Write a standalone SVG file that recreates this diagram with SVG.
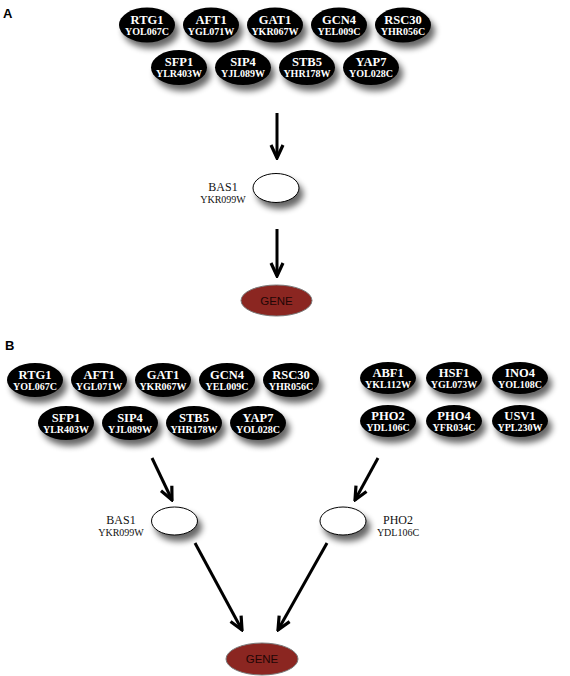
<svg xmlns="http://www.w3.org/2000/svg" width="570" height="676" viewBox="0 0 570 676">
<style>
.tf ellipse{fill:#000;}
.nm{font-family:"Liberation Serif",serif;font-weight:bold;font-size:12.5px;fill:#fff;text-anchor:middle;}
.id{font-family:"Liberation Serif",serif;font-weight:bold;font-size:10px;fill:#fff;text-anchor:middle;}
.lb{font-family:"Liberation Serif",serif;font-size:12px;fill:#111;text-anchor:middle;}
.lid{font-family:"Liberation Serif",serif;font-size:10px;fill:#111;text-anchor:middle;}
.wh{fill:#fff;stroke:#000;stroke-width:1;}
.gene{fill:#8b2621;stroke:#7a7a7a;stroke-width:1;}
.gt{font-family:"Liberation Sans Narrow","Liberation Sans",sans-serif;font-size:11.5px;fill:#220606;text-anchor:middle;}
.pl{font-family:"Liberation Sans",sans-serif;font-weight:bold;font-size:13px;fill:#000;}
.ar{stroke:#000;stroke-width:3;fill:none;marker-end:url(#ah);}
</style>
<defs>
<filter id="sh" x="-30%" y="-30%" width="170%" height="190%">
<feGaussianBlur in="SourceAlpha" stdDeviation="3"/>
<feOffset dx="4" dy="6"/>
<feComponentTransfer><feFuncA type="linear" slope="0.6"/></feComponentTransfer>
<feMerge><feMergeNode/><feMergeNode in="SourceGraphic"/></feMerge>
</filter>
<marker id="ah" viewBox="-15 -8 17 16" refX="0" refY="0" markerWidth="17" markerHeight="16" markerUnits="userSpaceOnUse" orient="auto">
<path d="M-13,-6 L0,0 L-13,6" fill="none" stroke="#000" stroke-width="3.2"/>
</marker>
</defs>
<rect width="570" height="676" fill="#fff"/>
<text class="pl" x="3" y="18">A</text>
<text class="pl" x="5" y="350">B</text>

<!-- Panel A -->
<g id="A_RTG1" class="tf"><ellipse cx="147" cy="25" rx="28" ry="17.5" filter="url(#sh)"/><text class="nm" x="147" y="23.5">RTG1</text><text class="id" x="147" y="34.5">YOL067C</text></g>
<g id="A_AFT1" class="tf"><ellipse cx="211" cy="25" rx="28" ry="17.5" filter="url(#sh)"/><text class="nm" x="211" y="23.5">AFT1</text><text class="id" x="211" y="34.5">YGL071W</text></g>
<g id="A_GAT1" class="tf"><ellipse cx="275" cy="25" rx="28" ry="17.5" filter="url(#sh)"/><text class="nm" x="275" y="23.5">GAT1</text><text class="id" x="275" y="34.5">YKR067W</text></g>
<g id="A_GCN4" class="tf"><ellipse cx="339" cy="25" rx="28" ry="17.5" filter="url(#sh)"/><text class="nm" x="339" y="23.5">GCN4</text><text class="id" x="339" y="34.5">YEL009C</text></g>
<g id="A_RSC30" class="tf"><ellipse cx="403" cy="25" rx="28" ry="17.5" filter="url(#sh)"/><text class="nm" x="403" y="23.5">RSC30</text><text class="id" x="403" y="34.5">YHR056C</text></g>
<g id="A_SFP1" class="tf"><ellipse cx="179" cy="67.5" rx="28" ry="17.5" filter="url(#sh)"/><text class="nm" x="179" y="66">SFP1</text><text class="id" x="179" y="77">YLR403W</text></g>
<g id="A_SIP4" class="tf"><ellipse cx="243" cy="67.5" rx="28" ry="17.5" filter="url(#sh)"/><text class="nm" x="243" y="66">SIP4</text><text class="id" x="243" y="77">YJL089W</text></g>
<g id="A_STB5" class="tf"><ellipse cx="307" cy="67.5" rx="28" ry="17.5" filter="url(#sh)"/><text class="nm" x="307" y="66">STB5</text><text class="id" x="307" y="77">YHR178W</text></g>
<g id="A_YAP7" class="tf"><ellipse cx="371" cy="67.5" rx="28" ry="17.5" filter="url(#sh)"/><text class="nm" x="371" y="66">YAP7</text><text class="id" x="371" y="77">YOL028C</text></g>
<g id="A_BAS1"><ellipse class="wh" cx="276" cy="188" rx="23" ry="14.5" filter="url(#sh)"/><text class="lb" x="223" y="191">BAS1</text><text class="lid" x="223" y="203">YKR099W</text></g>
<g id="A_GENE"><ellipse class="gene" cx="276.5" cy="300.5" rx="35.5" ry="15.5"/><text class="gt" x="276.5" y="304.5">GENE</text></g>

<!-- Panel B -->
<g id="B_RTG1" class="tf"><ellipse cx="35" cy="380" rx="28" ry="17" filter="url(#sh)"/><text class="nm" x="35" y="378.5">RTG1</text><text class="id" x="35" y="389.5">YOL067C</text></g>
<g id="B_AFT1" class="tf"><ellipse cx="99" cy="380" rx="28" ry="17" filter="url(#sh)"/><text class="nm" x="99" y="378.5">AFT1</text><text class="id" x="99" y="389.5">YGL071W</text></g>
<g id="B_GAT1" class="tf"><ellipse cx="163" cy="380" rx="28" ry="17" filter="url(#sh)"/><text class="nm" x="163" y="378.5">GAT1</text><text class="id" x="163" y="389.5">YKR067W</text></g>
<g id="B_GCN4" class="tf"><ellipse cx="227" cy="380" rx="28" ry="17" filter="url(#sh)"/><text class="nm" x="227" y="378.5">GCN4</text><text class="id" x="227" y="389.5">YEL009C</text></g>
<g id="B_RSC30" class="tf"><ellipse cx="291" cy="380" rx="28" ry="17" filter="url(#sh)"/><text class="nm" x="291" y="378.5">RSC30</text><text class="id" x="291" y="389.5">YHR056C</text></g>
<g id="B_SFP1" class="tf"><ellipse cx="66" cy="423" rx="28" ry="17" filter="url(#sh)"/><text class="nm" x="66" y="421.5">SFP1</text><text class="id" x="66" y="432.5">YLR403W</text></g>
<g id="B_SIP4" class="tf"><ellipse cx="130" cy="423" rx="28" ry="17" filter="url(#sh)"/><text class="nm" x="130" y="421.5">SIP4</text><text class="id" x="130" y="432.5">YJL089W</text></g>
<g id="B_STB5" class="tf"><ellipse cx="194" cy="423" rx="28" ry="17" filter="url(#sh)"/><text class="nm" x="194" y="421.5">STB5</text><text class="id" x="194" y="432.5">YHR178W</text></g>
<g id="B_YAP7" class="tf"><ellipse cx="258" cy="423" rx="28" ry="17" filter="url(#sh)"/><text class="nm" x="258" y="421.5">YAP7</text><text class="id" x="258" y="432.5">YOL028C</text></g>
<g id="B_ABF1" class="tf"><ellipse cx="388" cy="378" rx="28" ry="16" filter="url(#sh)"/><text class="nm" x="388" y="376.5">ABF1</text><text class="id" x="388" y="387.5">YKL112W</text></g>
<g id="B_HSF1" class="tf"><ellipse cx="454" cy="378" rx="28" ry="16" filter="url(#sh)"/><text class="nm" x="454" y="376.5">HSF1</text><text class="id" x="454" y="387.5">YGL073W</text></g>
<g id="B_INO4" class="tf"><ellipse cx="520" cy="378" rx="28" ry="16" filter="url(#sh)"/><text class="nm" x="520" y="376.5">INO4</text><text class="id" x="520" y="387.5">YOL108C</text></g>
<g id="B_PHO2a" class="tf"><ellipse cx="388" cy="421" rx="28" ry="16" filter="url(#sh)"/><text class="nm" x="388" y="419.5">PHO2</text><text class="id" x="388" y="430.5">YDL106C</text></g>
<g id="B_PHO4" class="tf"><ellipse cx="454" cy="421" rx="28" ry="16" filter="url(#sh)"/><text class="nm" x="454" y="419.5">PHO4</text><text class="id" x="454" y="430.5">YFR034C</text></g>
<g id="B_USV1" class="tf"><ellipse cx="520" cy="421" rx="28" ry="16" filter="url(#sh)"/><text class="nm" x="520" y="419.5">USV1</text><text class="id" x="520" y="430.5">YPL230W</text></g>
<g id="B_BAS1"><ellipse class="wh" cx="174.5" cy="521" rx="23" ry="14" filter="url(#sh)"/><text class="lb" x="121" y="524">BAS1</text><text class="lid" x="121" y="536">YKR099W</text></g>
<g id="B_PHO2"><ellipse class="wh" cx="343" cy="521" rx="23" ry="14" filter="url(#sh)"/><text class="lb" x="398" y="524">PHO2</text><text class="lid" x="398" y="536">YDL106C</text></g>
<g id="B_GENE"><ellipse class="gene" cx="262" cy="659" rx="36" ry="16"/><text class="gt" x="262" y="663">GENE</text></g>

<g id="connectors">
<line class="ar" x1="277" y1="113" x2="277" y2="158"/>
<line class="ar" x1="277" y1="229" x2="277" y2="276"/>
<line class="ar" x1="152" y1="458" x2="172" y2="500"/>
<line class="ar" x1="378" y1="458" x2="355" y2="500"/>
<line class="ar" x1="195" y1="543" x2="242" y2="630"/>
<line class="ar" x1="327" y1="543" x2="278" y2="630"/>
</g>
</svg>
